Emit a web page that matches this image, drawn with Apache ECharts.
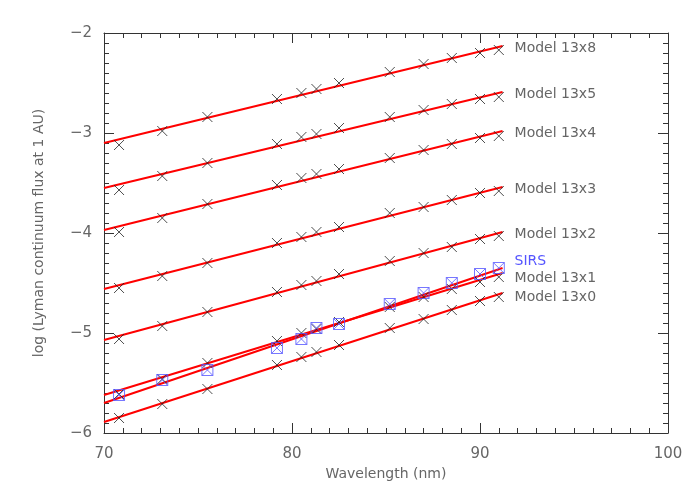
<!DOCTYPE html>
<html>
<head>
<meta charset="utf-8">
<script src="https://cdn.jsdelivr.net/npm/echarts@6/dist/echarts.min.js"></script>
<style>body{margin:0;background:#fff}#chart{width:700px;height:500px}</style>
</head>
<body>
<div id="chart"></div>
<script type="text/javascript">

var wavelengths = [70.8, 73.1, 75.5, 79.2, 80.5, 81.3, 82.5, 85.2, 87.0, 88.5, 90.0, 91.0];

var model13x8 = [-3.12, -2.98, -2.84, -2.66, -2.60, -2.56, -2.50, -2.39, -2.31, -2.25, -2.20, -2.17];
var model13x5 = [-3.57, -3.43, -3.30, -3.11, -3.04, -3.01, -2.95, -2.84, -2.77, -2.71, -2.66, -2.64];
var model13x4 = [-3.99, -3.85, -3.71, -3.52, -3.45, -3.41, -3.36, -3.25, -3.17, -3.11, -3.05, -3.03];
var model13x3 = [-4.55, -4.43, -4.30, -4.10, -4.04, -3.99, -3.94, -3.80, -3.74, -3.67, -3.60, -3.58];
var model13x2 = [-5.06, -4.93, -4.79, -4.59, -4.52, -4.48, -4.41, -4.28, -4.20, -4.14, -4.06, -4.03];
var model13x1 = [-5.61, -5.46, -5.30, -5.08, -5.00, -4.96, -4.89, -4.74, -4.64, -4.56, -4.49, -4.44];
var model13x0 = [-5.85, -5.71, -5.56, -5.32, -5.24, -5.19, -5.12, -4.95, -4.86, -4.77, -4.68, -4.64];
var sirs      = [-5.62, -5.47, -5.37, -5.15, -5.06, -4.95, -4.91, -4.71, -4.60, -4.50, -4.41, -4.35];

// fitted lines: [start, end] values at lineX
var lineX = [70, 91.2];
var fits = [
    {name: 'Model 13x8', y: [-3.10, -2.13], off: [4, 2]},
    {name: 'Model 13x5', y: [-3.55, -2.59], off: [4, 2]},
    {name: 'Model 13x4', y: [-3.97, -2.98], off: [4, 2]},
    {name: 'Model 13x3', y: [-4.56, -3.54], off: [4, 2]},
    {name: 'Model 13x2', y: [-5.07, -3.99], off: [4, 2]},
    {name: 'Model 13x1', y: [-5.62, -4.40], off: [4, 5]},
    {name: 'SIRS',       y: [-5.70, -4.35], off: [4, -7], color: '#5555ff'},
    {name: 'Model 13x0', y: [-5.89, -4.60], off: [4, 4]}
];

var points = [model13x8, model13x5, model13x4, model13x3, model13x2, model13x1, model13x0];

var crossSym = 'path://M0,0L10,10M10,0L0,10';
var boxSym = 'path://M0,0L10,0L10,10L0,10ZM0,0L10,10M10,0L0,10';
var grey = '#666';

function pairs(ys) {
    return wavelengths.map(function (x, i) { return [x, ys[i]]; });
}

var series = [];
fits.forEach(function (f) {
    series.push({
        type: 'line', xAxisIndex: 0, yAxisIndex: 0, silent: true,
        data: [[lineX[0], f.y[0]], [lineX[1], f.y[1]]],
        showSymbol: false, symbol: 'none',
        lineStyle: {color: '#ff0000', width: 2},
        endLabel: {
            show: true, formatter: f.name, offset: f.off,
            color: f.color || grey, fontSize: 14, fontFamily: 'DejaVu Sans'
        },
        z: 2
    });
});
points.forEach(function (p) {
    series.push({
        type: 'scatter', data: pairs(p), symbol: crossSym, symbolSize: 10,
        itemStyle: {color: 'none', borderColor: '#222', borderWidth: 1}, z: 3
    });
});
series.push({
    type: 'scatter', data: pairs(sirs), symbol: boxSym, symbolSize: 11,
    itemStyle: {color: 'none', borderColor: '#5555ff', borderWidth: 1}, z: 4
});

var axisCommon = {
    axisLine: {show: true, onZero: false, lineStyle: {color: '#333'}},
    axisTick: {show: true, inside: true, length: 10, lineStyle: {color: '#333'}},
    minorTick: {show: true, splitNumber: 10, length: 5, lineStyle: {color: '#333'}},
    splitLine: {show: false}
};

var option = {
    animation: false,
    textStyle: {fontFamily: 'DejaVu Sans'},
    grid: {left: 104, right: 32, top: 33, bottom: 67},
    xAxis: [
        Object.assign({
            type: 'value', min: 70, max: 100, interval: 10, position: 'bottom',
            name: 'Wavelength (nm)', nameLocation: 'middle', nameGap: 33,
            nameTextStyle: {color: grey, fontSize: 14},
            axisLabel: {color: grey, fontSize: 15, margin: 14}
        }, axisCommon),
        Object.assign({
            type: 'value', min: 70, max: 100, interval: 10, position: 'top',
            axisLabel: {show: false}
        }, axisCommon)
    ],
    yAxis: [
        Object.assign({
            type: 'value', min: -6, max: -2, interval: 1, position: 'left',
            name: 'log (Lyman continuum flux at 1 AU)', nameLocation: 'middle', nameGap: 58,
            nameTextStyle: {color: grey, fontSize: 14},
            axisLabel: {color: grey, fontSize: 15, margin: 12,
                formatter: function (v) { return String(v).replace('-', '\u2212'); }}
        }, axisCommon),
        Object.assign({
            type: 'value', min: -6, max: -2, interval: 1, position: 'right',
            axisLabel: {show: false}
        }, axisCommon)
    ],
    series: series
};

var chart = echarts.init(document.getElementById('chart'));
chart.setOption(option);

</script>
</body>
</html>
